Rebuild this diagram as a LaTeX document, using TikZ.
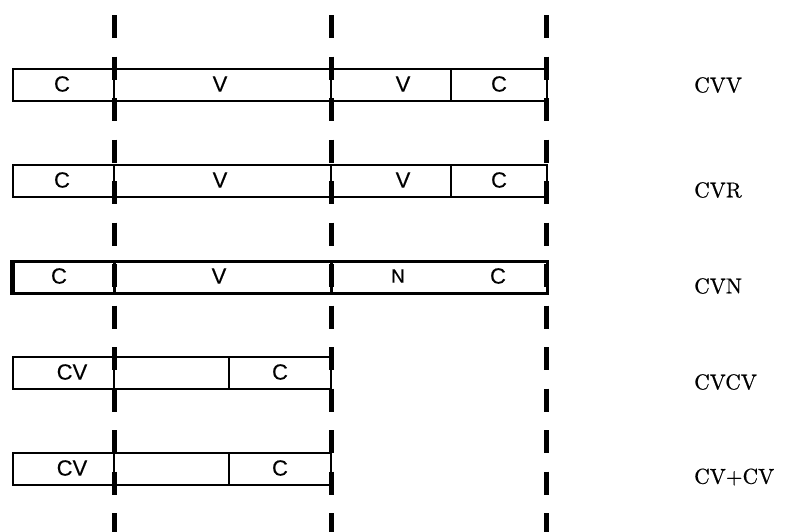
\documentclass[tikz,border=0pt]{standalone}
\usepackage{fontspec}
\newfontfamily\cellfont{Liberation Sans}[FakeBold=0.3]
\newfontfamily\lmten{lmroman10-regular.otf}[FakeBold=0.6]
\begin{document}
\begin{tikzpicture}[x=1pt,y=-1pt,
  cell/.style={draw=black,line width=2pt,rectangle,inner sep=0pt,minimum height=32pt,anchor=north west},
  thickcell/.style={cell,line width=2.6pt},
  seg/.style={font=\cellfont\fontsize{22}{22}\selectfont,inner sep=0pt,anchor=center},
  rowname/.style={font=\lmten\fontsize{21.5}{21.5}\selectfont,inner sep=0pt,anchor=west},
  divider/.style={line width=5pt,dash pattern=on 23pt off 18.5pt,line cap=butt}]
\useasboundingbox (0,0) rectangle (791,531);
% row 1: CVV
\node[cell,minimum width=101pt] (r1a) at (12,68) {};
\node[cell,minimum width=217pt] (r1b) at (113,68) {};
\node[cell,minimum width=120pt] (r1c) at (330,68) {};
\node[cell,minimum width=96pt] (r1d) at (450,68) {};
\node[seg] (t1a) at (62,84) {C};
\node[seg] (t1b) at (220,84) {V};
\node[seg] (t1c) at (403,84) {V};
\node[seg] (t1d) at (499,84) {C};
\node[rowname] (n1) at (694,85) {CVV};
% row 2: CVR
\node[cell,minimum width=101pt] (r2a) at (12,164) {};
\node[cell,minimum width=217pt] (r2b) at (113,164) {};
\node[cell,minimum width=120pt] (r2c) at (330,164) {};
\node[cell,minimum width=96pt] (r2d) at (450,164) {};
\node[seg] (t2a) at (62,180) {C};
\node[seg] (t2b) at (220,180) {V};
\node[seg] (t2c) at (403,180) {V};
\node[seg] (t2d) at (499,180) {C};
\node[rowname] (n2) at (694,190) {CVR};
% row 3: CVN
\node[thickcell,minimum width=101pt] (r3a) at (12,260) {};
\node[thickcell,minimum width=217pt] (r3b) at (113,260) {};
\node[thickcell,minimum width=216pt] (r3c) at (330,260) {};
\draw[line width=4pt] (r3a.north west) -- (r3a.south west);
\node[seg] (t3a) at (59,276) {C};
\node[seg] (t3b) at (219,276) {V};
\node[seg,font=\cellfont\fontsize{19}{19}\selectfont] (t3c) at (398,276) {N};
\node[seg] (t3d) at (498,276) {C};
\node[rowname] (n3) at (694,286) {CVN};
% row 4: CVCV
\node[cell,minimum width=101pt] (r4a) at (12,356) {};
\node[cell,minimum width=115pt] (r4b) at (113,356) {};
\node[cell,minimum width=102pt] (r4c) at (228,356) {};
\node[seg] (t4a) at (72,372) {CV};
\node[seg] (t4c) at (280,372) {C};
\node[rowname] (n4) at (694,382) {CVCV};
% row 5: CV+CV
\node[cell,minimum width=101pt] (r5a) at (12,452) {};
\node[cell,minimum width=115pt] (r5b) at (113,452) {};
\node[cell,minimum width=102pt] (r5c) at (228,452) {};
\node[seg] (t5a) at (72,468) {CV};
\node[seg] (t5c) at (280,468) {C};
\node[rowname] (n5) at (694,477) {CV+CV};
% dashed dividers
\coordinate (d1t) at (114,15); \coordinate (d1b) at (114,536);
\coordinate (d2t) at (331,15); \coordinate (d2b) at (331,536);
\coordinate (d3t) at (546,15); \coordinate (d3b) at (546,536);
\draw[divider] (d1t) -- (d1b);
\draw[divider] (d2t) -- (d2b);
\draw[divider] (d3t) -- (d3b);
\end{tikzpicture}
\end{document}
